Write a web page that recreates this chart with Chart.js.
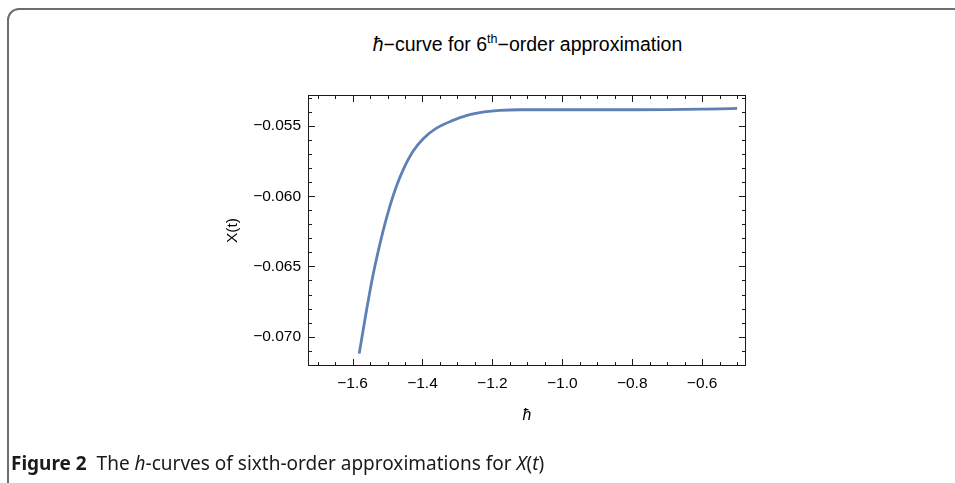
<!DOCTYPE html>
<html>
<head>
<meta charset="utf-8">
<script src="https://cdn.jsdelivr.net/npm/chart.js@4.4.1/dist/chart.umd.min.js"></script>
<style>
  html, body { margin: 0; padding: 0; background: #fff; }
  #wrap { position: relative; width: 955px; height: 483px; overflow: hidden; }
  #box { position: absolute; left: 7px; top: 8px; width: 1000px; height: 600px;
         border: 2px solid #6e6e6e; border-radius: 12px; box-sizing: border-box; }
  #title { position: absolute; left: 0; width: 1055px; top: 33px; text-align: center;
           font-family: "Liberation Sans", Arial, sans-serif; font-size: 19.5px; color: #000; }
  #title sup { font-size: 12.5px; vertical-align: 8px; line-height: 0; }
  #caption { position: absolute; left: 11px; top: 450px; font-family: "Noto Sans", sans-serif;
             font-size: 19px; color: #1a1a1a; white-space: pre; }
  canvas { position: absolute; left: 0; top: 0; }
</style>
</head>
<body>
<div id="wrap">
  <div id="box"></div>
  <div id="title"><i>ħ</i>−curve for 6<sup>th</sup>−order approximation</div>
  <canvas id="myChart" width="955" height="483"></canvas>
  <div id="caption"><b>Figure 2</b>  The <i>h</i>-curves of sixth-order approximations for <i>X</i>(<i>t</i>)</div>
</div>
<script>
  const hbar = [-1.581, -1.560, -1.541, -1.513, -1.493, -1.474, -1.455, -1.427, -1.398,
                -1.360, -1.313, -1.265, -1.236, -1.179, -1.122, -1.0, -0.8, -0.7, -0.6, -0.55, -0.5];
  const xOfT = [-0.07121, -0.06810, -0.06555, -0.06250, -0.06068, -0.05925, -0.05810, -0.05680, -0.05590,
                -0.05515, -0.05460, -0.05419, -0.05404, -0.05389, -0.05384, -0.05384, -0.05384, -0.05383,
                -0.05380, -0.05378, -0.05374];

  const xTicks = [-1.6, -1.4, -1.2, -1.0, -0.8, -0.6];
  const yTicks = [-0.070, -0.065, -0.060, -0.055];

  const points = hbar.map((h, i) => ({ x: h, y: xOfT[i] }));

  // Mathematica-like frame with inward major + minor ticks on all sides
  const frameTicks = {
    id: 'frameTicks',
    afterDraw(chart) {
      const ctx = chart.ctx;
      const a = chart.chartArea;
      const xs = chart.scales.x, ys = chart.scales.y;
      ctx.save();
      ctx.strokeStyle = '#1a1a1a';
      ctx.lineWidth = 1;
      ctx.strokeRect(a.left + 0.5, a.top + 0.5, a.right - a.left - 1, a.bottom - a.top - 1);
      ctx.beginPath();
      for (let v = -1.70; v <= -0.45; v += 0.05) {
        const px = Math.round(xs.getPixelForValue(v)) + 0.5;
        if (px < a.left || px > a.right) continue;
        const major = xTicks.some(t => Math.abs(t - v) < 1e-6);
        const len = major ? 7 : 4;
        ctx.moveTo(px, a.bottom); ctx.lineTo(px, a.bottom - len);
        ctx.moveTo(px, a.top); ctx.lineTo(px, a.top + len);
      }
      for (let v = -0.072; v <= -0.0525; v += 0.001) {
        const py = Math.round(ys.getPixelForValue(v)) + 0.5;
        if (py < a.top || py > a.bottom) continue;
        const major = yTicks.some(t => Math.abs(t - v) < 1e-7);
        const len = major ? 7 : 4;
        ctx.moveTo(a.left, py); ctx.lineTo(a.left + len, py);
        ctx.moveTo(a.right, py); ctx.lineTo(a.right - len, py);
      }
      ctx.stroke();
      ctx.restore();
    }
  };

  const fmt = (v, d) => (v < 0 ? '\u2212' : '') + Math.abs(v).toFixed(d);

  const config = {
    type: 'line',
    data: {
      datasets: [{
        data: points,
        borderColor: 'rgb(94, 129, 181)',
        borderWidth: 2.8,
        pointRadius: 0,
        fill: false,
        cubicInterpolationMode: 'monotone'
      }]
    },
    options: {
      responsive: false,
      devicePixelRatio: 1,
      animation: false,
      layout: { padding: { left: 219, top: 95, right: 209, bottom: 54 } },
      plugins: { legend: { display: false }, tooltip: { enabled: false } },
      scales: {
        x: {
          type: 'linear',
          min: -1.7275,
          max: -0.4745,
          grid: { display: false, drawTicks: false },
          border: { display: false },
          afterBuildTicks: s => { s.ticks = xTicks.map(v => ({ value: v })); },
          afterFit: s => { s.height = 63; },
          ticks: {
            padding: 8,
            color: '#000',
            font: { family: 'Liberation Sans', size: 15.5 },
            callback: v => fmt(v, 1)
          },
          title: {
            display: true,
            text: 'ħ',
            color: '#000',
            padding: { top: 0, bottom: 4 },
            font: { family: 'Liberation Sans', size: 16, style: 'italic' }
          }
        },
        y: {
          type: 'linear',
          min: -0.07209,
          max: -0.05279,
          grid: { display: false, drawTicks: false },
          border: { display: false },
          afterBuildTicks: s => { s.ticks = yTicks.map(v => ({ value: v })); },
          afterFit: s => { s.width = 89; },
          ticks: {
            padding: 7,
            color: '#000',
            font: { family: 'Liberation Sans', size: 15.5 },
            callback: v => fmt(v, 3)
          },
          title: {
            display: true,
            text: 'X(t)',
            color: '#000',
            padding: { top: 4, bottom: 0 },
            font: { family: 'Liberation Sans', size: 15.5 }
          }
        }
      }
    },
    plugins: [frameTicks]
  };

  const myChart = new Chart(document.getElementById('myChart'), config);
</script>
</body>
</html>
